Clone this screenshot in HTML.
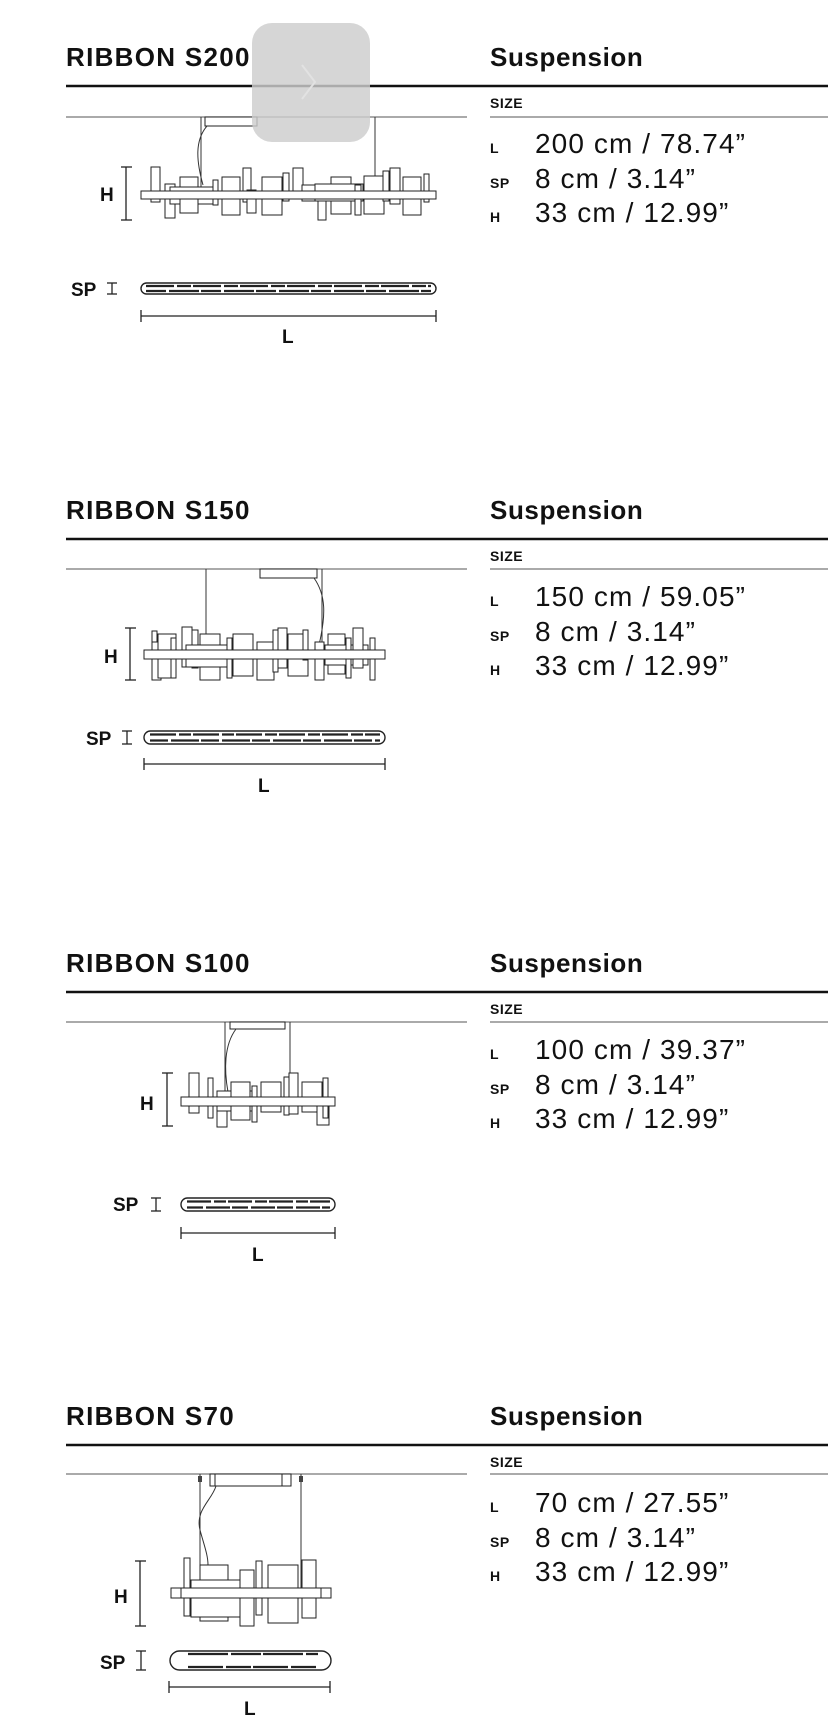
<!DOCTYPE html>
<html><head><meta charset="utf-8">
<style>
html,body{margin:0;padding:0;background:#fff;}
svg{display:block;}
.t{font-family:"Liberation Sans",sans-serif;font-weight:bold;font-size:26px;letter-spacing:1.3px;fill:#111;}
.t2{font-family:"Liberation Sans",sans-serif;font-weight:bold;font-size:26px;letter-spacing:0.6px;fill:#111;}
.s{font-family:"Liberation Sans",sans-serif;font-weight:bold;font-size:14px;letter-spacing:0.5px;fill:#111;}
.v{font-family:"Liberation Sans",sans-serif;font-size:28px;letter-spacing:1.1px;fill:#111;}
.d{font-family:"Liberation Sans",sans-serif;font-weight:bold;font-size:19px;fill:#111;}
.b rect{fill:#fff;stroke:#222;stroke-width:1;}
.ln{stroke:#222;stroke-width:1.3;fill:none;}
.w{stroke:#333;stroke-width:1;fill:none;}
</style></head>
<body>
<svg width="828" height="1717" viewBox="0 0 828 1717" xmlns="http://www.w3.org/2000/svg">

<!-- ===== Section 1 ===== -->
<text class="t" x="66" y="66">RIBBON S200</text>
<text class="t2" x="490" y="66">Suspension</text>
<line x1="66" y1="86" x2="828" y2="86" stroke="#111" stroke-width="2.5"/>
<text class="s" x="490" y="108">SIZE</text>
<line x1="66" y1="117" x2="467" y2="117" stroke="#777" stroke-width="1.3"/>
<line x1="490" y1="117" x2="828" y2="117" stroke="#777" stroke-width="1.3"/>
<text class="s" x="490" y="153">L</text><text class="v" x="535" y="153">200 cm / 78.74”</text>
<text class="s" x="490" y="188">SP</text><text class="v" x="535" y="188">8 cm / 3.14”</text>
<text class="s" x="490" y="222">H</text><text class="v" x="535" y="222">33 cm / 12.99”</text>

<rect x="205" y="117" width="52" height="9" fill="#fff" stroke="#222"/>
<line class="w" x1="201" y1="117" x2="201" y2="191"/>
<line class="w" x1="375" y1="117" x2="375" y2="191"/>
<path class="w" d="M207 126 C195 140,196 160,203 185"/>
<g class="b">
<rect x="151" y="167" width="9" height="35"/><rect x="165" y="184" width="10" height="34"/>
<rect x="180" y="177" width="18" height="16"/><rect x="170" y="187" width="45" height="17"/><rect x="180" y="199" width="18" height="14"/>
<rect x="213" y="180" width="5" height="25"/><rect x="222" y="177" width="18" height="38"/>
<rect x="243" y="168" width="8" height="34"/><rect x="247" y="190" width="9" height="23"/>
<rect x="262" y="177" width="20" height="38"/><rect x="283" y="173" width="6" height="28"/>
<rect x="293" y="168" width="10" height="30"/><rect x="302" y="185" width="15" height="16"/>
<rect x="318" y="197" width="8" height="23"/><rect x="331" y="177" width="20" height="37"/><rect x="315" y="184" width="48" height="17"/>
<rect x="355" y="185" width="6" height="30"/><rect x="364" y="176" width="20" height="38"/>
<rect x="383" y="171" width="6" height="30"/><rect x="390" y="168" width="10" height="36"/>
<rect x="403" y="177" width="18" height="38"/><rect x="424" y="174" width="5" height="28"/>
<rect x="141" y="191" width="295" height="8"/>
</g>
<line class="ln" x1="126" y1="167" x2="126" y2="220"/><line class="ln" x1="121" y1="167" x2="132" y2="167"/><line class="ln" x1="121" y1="220" x2="132" y2="220"/>
<text class="d" x="100" y="201">H</text>
<rect x="141" y="283" width="295" height="11" rx="5.5" fill="none" stroke="#222" stroke-width="1.4"/>
<line x1="146" y1="286" x2="431" y2="286" stroke="#222" stroke-width="2.2" stroke-dasharray="28 3 14 2"/>
<line x1="146" y1="291" x2="431" y2="291" stroke="#222" stroke-width="2.2" stroke-dasharray="20 3 30 2"/>
<line class="ln" x1="112" y1="283" x2="112" y2="294"/><line class="ln" x1="107" y1="283" x2="117" y2="283"/><line class="ln" x1="107" y1="294" x2="117" y2="294"/>
<text class="d" x="71" y="296">SP</text>
<line class="ln" x1="141" y1="316" x2="436" y2="316"/><line class="ln" x1="141" y1="310" x2="141" y2="322"/><line class="ln" x1="436" y1="310" x2="436" y2="322"/>
<text class="d" x="282" y="343">L</text>

<!-- overlay -->
<rect x="252" y="23" width="118" height="119" rx="20" fill="#cdcdcd" fill-opacity="0.82"/>
<path d="M302 65 L315 82 L302 99" stroke="#e2e2e2" stroke-width="2" fill="none"/>

<!-- ===== Section 2 ===== -->
<text class="t" x="66" y="519">RIBBON S150</text>
<text class="t2" x="490" y="519">Suspension</text>
<line x1="66" y1="539" x2="828" y2="539" stroke="#111" stroke-width="2.5"/>
<text class="s" x="490" y="561">SIZE</text>
<line x1="66" y1="569" x2="467" y2="569" stroke="#777" stroke-width="1.3"/>
<line x1="490" y1="569" x2="828" y2="569" stroke="#777" stroke-width="1.3"/>
<text class="s" x="490" y="606">L</text><text class="v" x="535" y="606">150 cm / 59.05”</text>
<text class="s" x="490" y="641">SP</text><text class="v" x="535" y="641">8 cm / 3.14”</text>
<text class="s" x="490" y="675">H</text><text class="v" x="535" y="675">33 cm / 12.99”</text>

<rect x="260" y="569" width="57" height="9" fill="#fff" stroke="#222"/>
<line class="w" x1="206" y1="569" x2="206" y2="650"/>
<line class="w" x1="322" y1="569" x2="322" y2="650"/>
<path class="w" d="M314 578 C326 595,326 615,319 645"/>
<g class="b">
<rect x="152" y="631" width="5" height="15"/><rect x="152" y="642" width="9" height="38"/>
<rect x="158" y="634" width="18" height="44"/><rect x="171" y="638" width="5" height="40"/>
<rect x="182" y="627" width="10" height="40"/><rect x="192" y="630" width="6" height="38"/>
<rect x="200" y="634" width="20" height="46"/><rect x="186" y="645" width="43" height="22"/>
<rect x="227" y="638" width="5" height="40"/><rect x="233" y="634" width="20" height="42"/>
<rect x="257" y="642" width="17" height="38"/><rect x="273" y="630" width="5" height="42"/>
<rect x="278" y="628" width="9" height="40"/><rect x="288" y="634" width="20" height="42"/>
<rect x="303" y="630" width="5" height="30"/><rect x="315" y="642" width="9" height="38"/>
<rect x="328" y="634" width="17" height="40"/><rect x="325" y="645" width="43" height="20"/>
<rect x="346" y="638" width="5" height="40"/><rect x="353" y="628" width="10" height="40"/>
<rect x="370" y="638" width="5" height="42"/>
<rect x="144" y="650" width="241" height="9"/>
</g>
<line class="ln" x1="130" y1="628" x2="130" y2="680"/><line class="ln" x1="125" y1="628" x2="136" y2="628"/><line class="ln" x1="125" y1="680" x2="136" y2="680"/>
<text class="d" x="104" y="663">H</text>
<rect x="144" y="731" width="241" height="13" rx="6.5" fill="none" stroke="#222" stroke-width="1.4"/>
<line x1="150" y1="734.5" x2="380" y2="734.5" stroke="#222" stroke-width="2.2" stroke-dasharray="26 3 12 2"/>
<line x1="150" y1="740.5" x2="380" y2="740.5" stroke="#222" stroke-width="2.2" stroke-dasharray="18 3 28 2"/>
<line class="ln" x1="127" y1="731" x2="127" y2="744"/><line class="ln" x1="122" y1="731" x2="132" y2="731"/><line class="ln" x1="122" y1="744" x2="132" y2="744"/>
<text class="d" x="86" y="745">SP</text>
<line class="ln" x1="144" y1="764" x2="385" y2="764"/><line class="ln" x1="144" y1="758" x2="144" y2="770"/><line class="ln" x1="385" y1="758" x2="385" y2="770"/>
<text class="d" x="258" y="792">L</text>

<!-- ===== Section 3 ===== -->
<text class="t" x="66" y="972">RIBBON S100</text>
<text class="t2" x="490" y="972">Suspension</text>
<line x1="66" y1="992" x2="828" y2="992" stroke="#111" stroke-width="2.5"/>
<text class="s" x="490" y="1014">SIZE</text>
<line x1="66" y1="1022" x2="467" y2="1022" stroke="#777" stroke-width="1.3"/>
<line x1="490" y1="1022" x2="828" y2="1022" stroke="#777" stroke-width="1.3"/>
<text class="s" x="490" y="1059">L</text><text class="v" x="535" y="1059">100 cm / 39.37”</text>
<text class="s" x="490" y="1094">SP</text><text class="v" x="535" y="1094">8 cm / 3.14”</text>
<text class="s" x="490" y="1128">H</text><text class="v" x="535" y="1128">33 cm / 12.99”</text>

<rect x="230" y="1022" width="55" height="7" fill="#fff" stroke="#222"/>
<line class="w" x1="225" y1="1022" x2="225" y2="1097"/>
<line class="w" x1="290" y1="1022" x2="290" y2="1097"/>
<path class="w" d="M236 1029 C224 1045,224 1070,228 1092"/>
<g class="b">
<rect x="189" y="1073" width="10" height="40"/><rect x="208" y="1078" width="5" height="40"/>
<rect x="217" y="1103" width="10" height="24"/><rect x="217" y="1091" width="40" height="20"/>
<rect x="231" y="1082" width="19" height="38"/><rect x="252" y="1086" width="5" height="36"/>
<rect x="261" y="1082" width="20" height="30"/><rect x="284" y="1077" width="5" height="38"/>
<rect x="289" y="1073" width="9" height="41"/><rect x="302" y="1082" width="20" height="30"/>
<rect x="317" y="1103" width="12" height="22"/><rect x="323" y="1078" width="5" height="40"/>
<rect x="181" y="1097" width="154" height="9"/>
</g>
<line class="ln" x1="167" y1="1073" x2="167" y2="1126"/><line class="ln" x1="162" y1="1073" x2="173" y2="1073"/><line class="ln" x1="162" y1="1126" x2="173" y2="1126"/>
<text class="d" x="140" y="1110">H</text>
<rect x="181" y="1198" width="154" height="13" rx="6.5" fill="none" stroke="#222" stroke-width="1.4"/>
<line x1="187" y1="1201.5" x2="330" y2="1201.5" stroke="#222" stroke-width="2.2" stroke-dasharray="24 3 12 2"/>
<line x1="187" y1="1207.5" x2="330" y2="1207.5" stroke="#222" stroke-width="2.2" stroke-dasharray="16 3 24 2"/>
<line class="ln" x1="156" y1="1198" x2="156" y2="1211"/><line class="ln" x1="151" y1="1198" x2="161" y2="1198"/><line class="ln" x1="151" y1="1211" x2="161" y2="1211"/>
<text class="d" x="113" y="1211">SP</text>
<line class="ln" x1="181" y1="1233" x2="335" y2="1233"/><line class="ln" x1="181" y1="1227" x2="181" y2="1239"/><line class="ln" x1="335" y1="1227" x2="335" y2="1239"/>
<text class="d" x="252" y="1261">L</text>

<!-- ===== Section 4 ===== -->
<text class="t" x="66" y="1425">RIBBON S70</text>
<text class="t2" x="490" y="1425">Suspension</text>
<line x1="66" y1="1445" x2="828" y2="1445" stroke="#111" stroke-width="2.5"/>
<text class="s" x="490" y="1467">SIZE</text>
<line x1="66" y1="1474" x2="467" y2="1474" stroke="#777" stroke-width="1.3"/>
<line x1="490" y1="1474" x2="828" y2="1474" stroke="#777" stroke-width="1.3"/>
<text class="s" x="490" y="1512">L</text><text class="v" x="535" y="1512">70 cm / 27.55”</text>
<text class="s" x="490" y="1547">SP</text><text class="v" x="535" y="1547">8 cm / 3.14”</text>
<text class="s" x="490" y="1581">H</text><text class="v" x="535" y="1581">33 cm / 12.99”</text>

<rect x="210" y="1474" width="81" height="12" fill="#fff" stroke="#222"/>
<line x1="215" y1="1474" x2="215" y2="1486" stroke="#222"/><line x1="282" y1="1474" x2="282" y2="1486" stroke="#222"/>
<line class="w" x1="200" y1="1474" x2="200" y2="1588"/>
<line class="w" x1="301" y1="1474" x2="301" y2="1588"/>
<rect x="198" y="1476" width="4" height="6" fill="#444"/><rect x="299" y="1476" width="4" height="6" fill="#444"/>
<path class="w" d="M216 1486 C212 1500,195 1510,200 1530 C204 1545,208 1555,208 1565"/>
<g class="b">
<rect x="184" y="1558" width="6" height="58"/>
<rect x="200" y="1565" width="28" height="56"/>
<rect x="191" y="1580" width="62" height="37"/>
<rect x="240" y="1570" width="14" height="56"/>
<rect x="256" y="1561" width="6" height="54"/>
<rect x="268" y="1565" width="30" height="58"/>
<rect x="302" y="1560" width="14" height="58"/>
<rect x="171" y="1588" width="160" height="10"/>
<rect x="181" y="1588" width="140" height="10"/>
</g>
<line class="ln" x1="140" y1="1561" x2="140" y2="1626"/><line class="ln" x1="135" y1="1561" x2="146" y2="1561"/><line class="ln" x1="135" y1="1626" x2="146" y2="1626"/>
<text class="d" x="114" y="1603">H</text>
<rect x="170" y="1651" width="161" height="19" rx="9.5" fill="none" stroke="#222" stroke-width="1.4"/>
<line x1="188" y1="1654" x2="318" y2="1654" stroke="#222" stroke-width="2.2" stroke-dasharray="40 3 30 2"/>
<line x1="188" y1="1667" x2="318" y2="1667" stroke="#222" stroke-width="2.2" stroke-dasharray="35 3 25 2"/>
<line class="ln" x1="141" y1="1651" x2="141" y2="1670"/><line class="ln" x1="136" y1="1651" x2="146" y2="1651"/><line class="ln" x1="136" y1="1670" x2="146" y2="1670"/>
<text class="d" x="100" y="1669">SP</text>
<line class="ln" x1="169" y1="1687" x2="330" y2="1687"/><line class="ln" x1="169" y1="1681" x2="169" y2="1693"/><line class="ln" x1="330" y1="1681" x2="330" y2="1693"/>
<text class="d" x="244" y="1715">L</text>
</svg>
</body></html>
